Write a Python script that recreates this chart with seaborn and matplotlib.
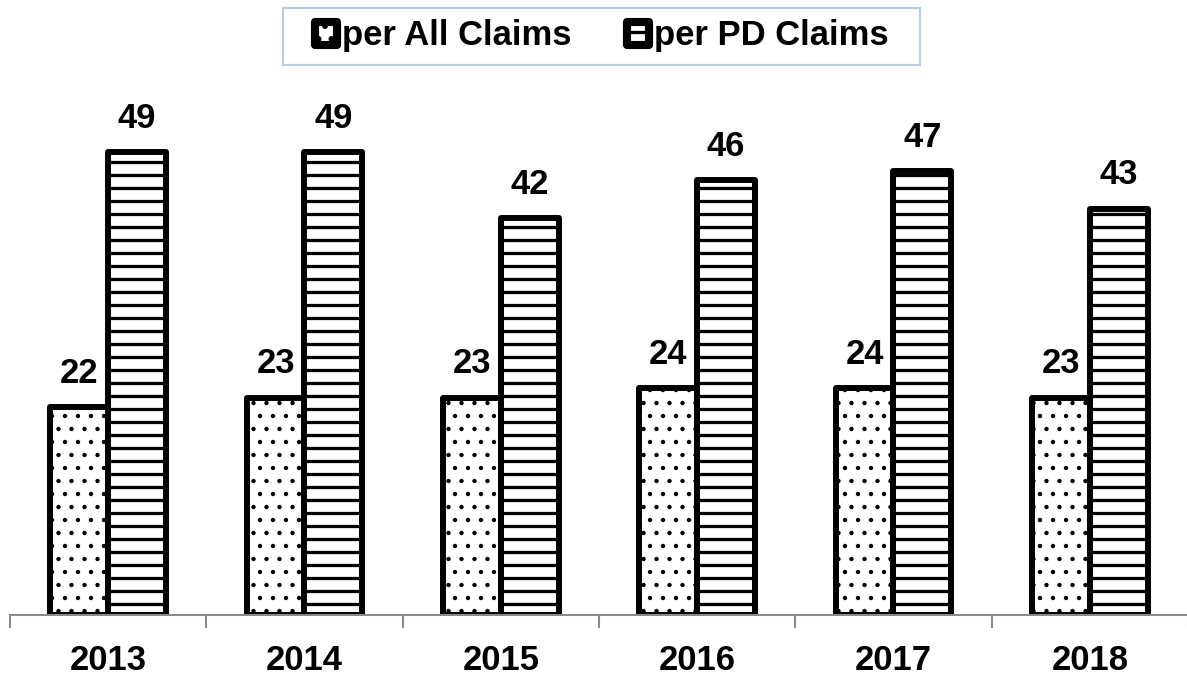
import matplotlib
matplotlib.use("Agg")
import matplotlib.pyplot as plt
import seaborn as sns
import pandas as pd
from matplotlib.patches import Rectangle
from matplotlib.ticker import FixedLocator, NullLocator

# Chart data
years = ["2013", "2014", "2015", "2016", "2017", "2018"]
per_all_claims = [22, 23, 23, 24, 24, 23]
per_pd_claims = [49, 49, 42, 46, 47, 43]
series_names = ["per All Claims", "per PD Claims"]

df = pd.DataFrame({
    "year": years * 2,
    "value": per_all_claims + per_pd_claims,
    "series": [series_names[0]] * len(years) + [series_names[1]] * len(years),
})

DPI = 78
W, H = 1187, 677

sns.set_theme(style="white")
plt.rcParams["font.family"] = ["Liberation Sans", "DejaVu Sans"]
plt.rcParams["font.weight"] = "bold"
plt.rcParams["text.color"] = "black"
plt.rcParams["xtick.labelcolor"] = "black"
plt.rcParams["hatch.linewidth"] = 3.0
plt.rcParams["hatch.color"] = "black"

fig = plt.figure(figsize=(W / DPI, H / DPI), dpi=DPI)
ax = fig.add_axes([10 / W, 62 / H, 1178 / W, 519.7 / H])

sns.barplot(
    data=df, x="year", y="value", hue="series",
    palette=["white", "white"], saturation=1,
    edgecolor="black", linewidth=5.5, width=0.59,
    ax=ax, legend=False,
)

grey = "#8a8a8a"
hatches = [".", "-"]
hatch_widths = [1.6, 3.0]
for cont, h, hw in zip(ax.containers, hatches, hatch_widths):
    for p in cont.patches:
        p.set_hatch(h)
        p.set_joinstyle("round")
        if hasattr(p, "set_hatch_linewidth"):
            p.set_hatch_linewidth(hw)
    ax.bar_label(cont, fmt="%d", padding=16, fontsize=32, fontweight="bold", color="black")

ax.set_xlim(-0.5, len(years) - 0.5)
ax.set_ylim(0, 55)
ax.set_xlabel("")
ax.set_ylabel("")
ax.yaxis.set_major_locator(NullLocator())

for side in ["left", "right", "top"]:
    ax.spines[side].set_visible(False)
ax.spines["bottom"].set_color(grey)
ax.spines["bottom"].set_linewidth(1.9)

ax.xaxis.set_minor_locator(FixedLocator([i - 0.5 for i in range(len(years) + 1)]))
ax.tick_params(axis="x", which="major", length=0, pad=27, labelsize=32, labelcolor="black")
ax.tick_params(axis="x", which="minor", length=12, width=1.9, color=grey, direction="out", bottom=True)
for lbl in ax.get_xticklabels():
    lbl.set_fontweight("bold")

# Legend entries, with a light-blue frame drawn around them
leg = fig.legend(
    handles=list(ax.containers), labels=series_names,
    loc="center", bbox_to_anchor=(602 / W, 1 - 36 / H),
    ncol=2, frameon=False,
    prop={"size": 32, "weight": "bold"},
    handlelength=0.64, handleheight=0.64, handletextpad=0.14,
    columnspacing=1.6, borderpad=0.0, borderaxespad=0,
)
for hnd in leg.legend_handles:
    hnd.set_linewidth(7.5)
    hnd.set_joinstyle("round")

fig.patches.append(Rectangle(
    (283 / W, 1 - 65 / H), (920 - 283) / W, (65 - 8) / H,
    transform=fig.transFigure, fill=False, edgecolor="#b8cce4", linewidth=2,
))

fig.savefig("out.png", dpi=DPI, facecolor="white")
